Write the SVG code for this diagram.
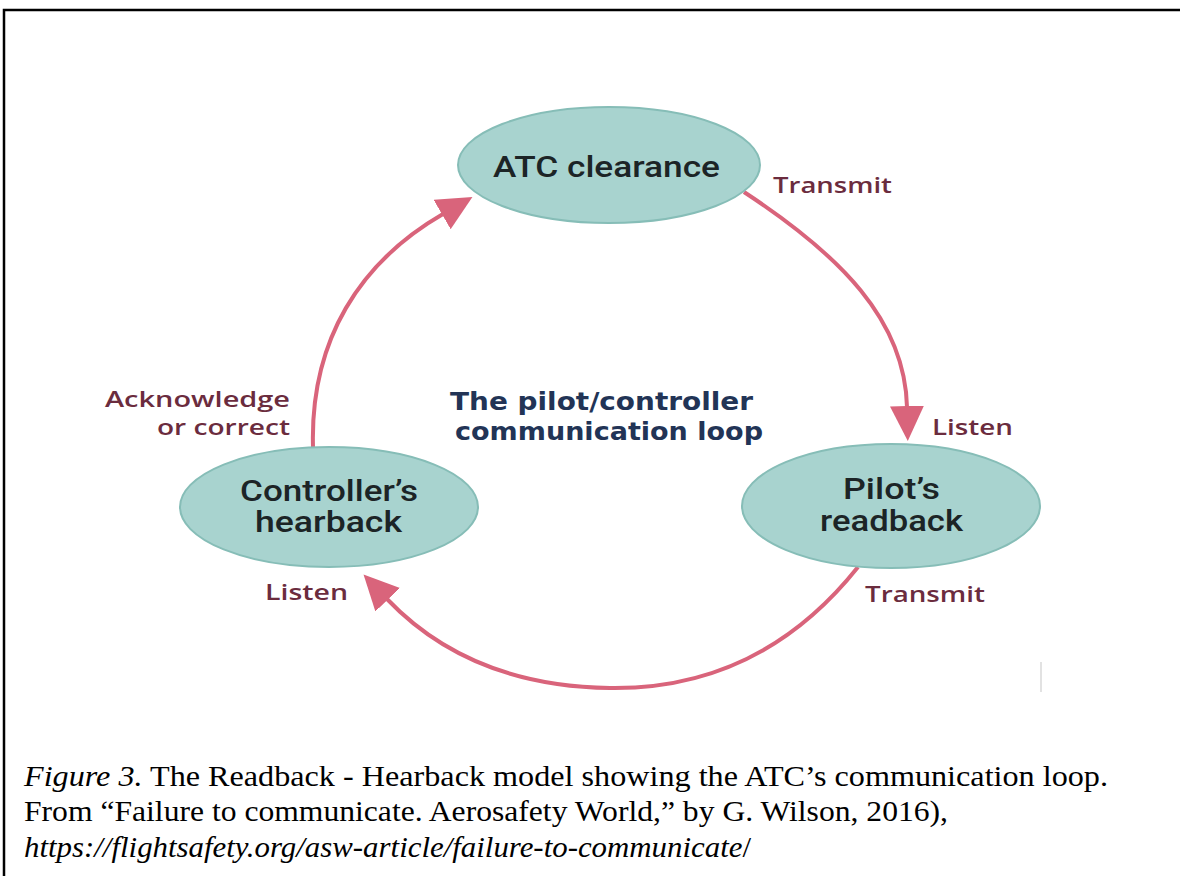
<svg xmlns="http://www.w3.org/2000/svg" width="1180" height="876" viewBox="0 0 1180 876">
<style>
.node{fill:#a8d3cf;stroke:#86bdb7;stroke-width:2}
.nt{font-family:Roboto,"Liberation Sans",sans-serif;font-weight:500;font-size:29px;fill:#1c2426}
.lbl{font-family:"Open Sans","DejaVu Sans",sans-serif;font-weight:600;font-size:22px;fill:#6b2c3e}
.title{font-family:"DejaVu Sans","Open Sans",sans-serif;font-weight:bold;font-size:25px;fill:#223456}
.arrow{fill:none;stroke:#d9647b;stroke-width:4}
.cap{font-family:"Liberation Serif","Times New Roman",serif;font-size:29px;fill:#000}
</style>
<defs>
<marker id="ah" markerUnits="userSpaceOnUse" markerWidth="36" markerHeight="34" viewBox="0 0 36 34" refX="1" refY="17" orient="auto">
<path d="M0,0 L35,17 L0,34 Z" fill="#d9647b"/>
</marker>
</defs>
<rect width="1180" height="876" fill="#fff"/>
<g id="frame" fill="none" stroke="#000" stroke-width="2.5">
<path d="M4,876 L4,10 L1180,10"/>
</g>
<line x1="1041" y1="662" x2="1041" y2="692" stroke="#d8d8d8" stroke-width="1.5"/>
<g id="connectors">
<path class="arrow" d="M744,192 C840,255 905,320 907,407" marker-end="url(#ah)"/>
<path class="arrow" d="M858,567 Q760,690 610,688 Q470,686 387,599" marker-end="url(#ah)"/>
<path class="arrow" d="M313,447 C310,340 360,262 443,214" marker-end="url(#ah)"/>
</g>
<g id="node-atc">
<ellipse class="node" cx="609" cy="165" rx="151" ry="58"/>
<text class="nt" x="493" y="177" textLength="227" lengthAdjust="spacingAndGlyphs">ATC clearance</text>
</g>
<g id="node-controller">
<ellipse class="node" cx="329" cy="507" rx="149" ry="60"/>
<text class="nt" x="240" y="501" textLength="178" lengthAdjust="spacingAndGlyphs">Controller’s</text>
<text class="nt" x="255" y="532" textLength="147" lengthAdjust="spacingAndGlyphs">hearback</text>
</g>
<g id="node-pilot">
<ellipse class="node" cx="891" cy="506" rx="149" ry="62"/>
<text class="nt" x="843" y="499" textLength="97" lengthAdjust="spacingAndGlyphs">Pilot’s</text>
<text class="nt" x="820" y="531" textLength="143" lengthAdjust="spacingAndGlyphs">readback</text>
</g>
<g id="labels">
<text class="lbl" x="773" y="193" textLength="119" lengthAdjust="spacingAndGlyphs">Transmit</text>
<text class="lbl" x="932" y="435" textLength="81" lengthAdjust="spacingAndGlyphs">Listen</text>
<text class="lbl" x="105" y="407" textLength="185" lengthAdjust="spacingAndGlyphs">Acknowledge</text>
<text class="lbl" x="157" y="435" textLength="133" lengthAdjust="spacingAndGlyphs">or correct</text>
<text class="lbl" x="265" y="600" textLength="83" lengthAdjust="spacingAndGlyphs">Listen</text>
<text class="lbl" x="865" y="602" textLength="120" lengthAdjust="spacingAndGlyphs">Transmit</text>
<text class="title" x="450" y="410" textLength="303" lengthAdjust="spacingAndGlyphs">The pilot/controller</text>
<text class="title" x="455" y="440" textLength="308" lengthAdjust="spacingAndGlyphs">communication loop</text>
</g>
<g id="caption">
<text class="cap" x="24" y="786" textLength="1084" lengthAdjust="spacingAndGlyphs"><tspan font-style="italic">Figure 3.</tspan> The Readback - Hearback model showing the ATC’s communication loop.</text>
<text class="cap" x="24" y="821" textLength="924" lengthAdjust="spacingAndGlyphs">From “Failure to communicate. Aerosafety World,” by G. Wilson, 2016),</text>
<text class="cap" x="24" y="857" textLength="727" lengthAdjust="spacingAndGlyphs"><tspan font-style="italic">https://flightsafety.org/asw-article/failure-to-communicate</tspan>/</text>
</g>
</svg>
